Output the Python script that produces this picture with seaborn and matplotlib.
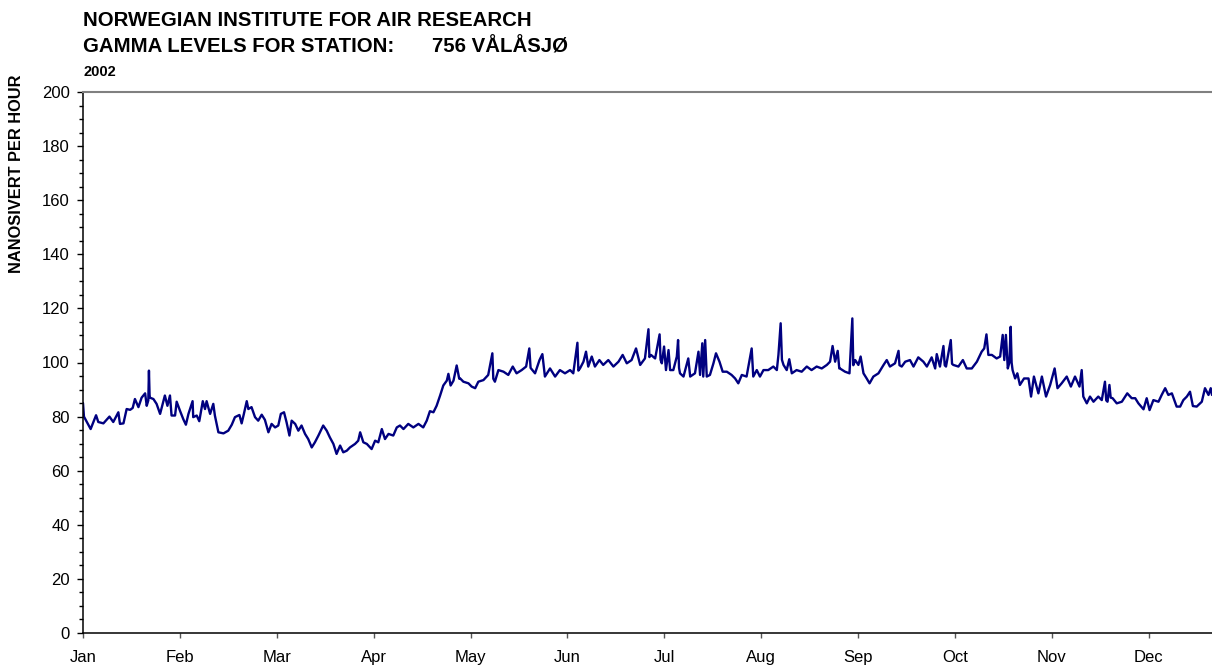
import numpy as np
import pandas as pd
import matplotlib
matplotlib.use("Agg")
import matplotlib.pyplot as plt
from matplotlib.ticker import MultipleLocator, FixedLocator
import seaborn as sns

# Day of year (2002) and hourly gamma dose rate (nSv/h)
day = [0.0, 0.3, 2.4, 4.1, 4.8, 6.4, 8.3, 9.5, 11.1, 11.6, 12.7, 13.7, 14.8, 15.6, 16.3, 17.4,
       18.4, 19.5, 20.0, 20.5, 20.7, 20.9, 21.0, 22.1, 23.1, 24.2, 25.7, 26.5, 27.3, 27.8, 28.9,
       29.4, 30.5, 31.5, 32.3, 33.1, 34.4, 34.6, 35.7, 36.5, 37.6, 38.3, 38.8, 39.9, 40.9, 41.4,
       42.5, 44.1, 45.6, 46.7, 47.7, 49.1, 49.8, 50.5, 51.4, 51.9, 52.9, 54.0, 55.0, 56.1, 57.1,
       58.2, 59.2, 60.3, 61.3, 62.1, 63.1, 63.9, 64.8, 65.5, 66.6, 67.6, 68.6, 69.7, 70.7, 71.8,
       72.8, 73.9, 75.4, 76.5, 77.5, 78.6, 79.6, 80.7, 81.7, 82.8, 83.8, 85.4, 86.4, 87.0, 88.0,
       89.1, 90.6, 91.7, 92.7, 93.8, 94.8, 95.9, 97.4, 98.5, 99.5, 100.6, 102.1, 103.7, 105.3,
       106.8, 107.9, 108.9, 110.0, 111.0, 112.1, 113.1, 114.2, 114.7, 115.4, 116.3, 117.3, 118.1,
       118.4, 119.4, 121.0, 122.0, 123.1, 124.1, 125.7, 127.2, 128.5, 128.8, 129.3, 130.4, 132.0,
       133.5, 134.9, 136.1, 137.7, 139.1, 140.1, 140.5, 141.9, 143.3, 144.2, 145.0, 146.6, 148.2,
       149.7, 151.3, 152.9, 153.9, 155.2, 155.5, 156.0, 157.1, 157.9, 158.6, 159.7, 160.7, 162.1,
       163.3, 164.9, 166.5, 168.1, 169.4, 170.7, 172.2, 173.6, 174.9, 176.4, 177.5, 177.8, 178.3,
       179.6, 180.1, 181.0, 181.3, 181.7, 182.4, 183.0, 183.8, 184.3, 185.3, 186.4, 186.8, 187.1,
       187.4, 188.5, 190.0, 190.6, 192.1, 193.2, 193.7, 194.4, 194.7, 195.3, 195.8, 196.8, 197.9,
       198.7, 199.8, 200.8, 202.1, 203.6, 204.7, 205.7, 206.8, 208.3, 209.9, 210.4, 211.5, 212.5,
       213.6, 215.1, 216.7, 217.8, 218.3, 219.0, 219.4, 219.9, 220.9, 221.7, 222.5, 224.0, 225.6,
       227.2, 228.7, 230.3, 231.9, 233.5, 234.5, 235.3, 236.1, 236.9, 237.4, 237.6, 239.2, 240.6,
       241.5, 241.8, 242.4, 243.4, 244.1, 245.0, 246.0, 246.9, 248.1, 249.7, 251.3, 252.3, 253.3,
       254.9, 256.0, 256.3, 257.0, 258.1, 259.6, 260.7, 262.2, 263.8, 264.9, 266.4, 267.5, 268.0,
       269.0, 270.1, 270.5, 270.9, 272.4, 272.8, 273.2, 274.8, 276.2, 277.4, 279.0, 280.6, 282.1,
       282.9, 283.6, 284.2, 285.3, 286.8, 287.9, 288.7, 289.2, 289.7, 290.3, 290.8, 291.2, 291.5,
       291.8, 292.6, 293.3, 294.1, 295.4, 296.8, 297.6, 298.5, 299.9, 301.0, 302.3, 303.6, 305.0,
       305.9, 307.2, 308.8, 310.1, 311.4, 312.8, 313.5, 314.0, 315.1, 316.1, 317.2, 318.7, 319.8,
       320.8, 321.2, 321.6, 322.2, 322.6, 323.2, 324.5, 326.1, 327.8, 329.2, 330.3, 331.3, 332.9,
       333.9, 334.8, 336.0, 337.6, 338.6, 339.7, 340.7, 341.8, 343.3, 344.4, 345.4, 346.5, 347.5,
       348.4, 349.6, 351.2, 352.2, 353.3, 354.0, 354.4]

nsv = [85, 80, 75.4, 80.5, 78, 77.5, 80, 78, 81.6, 77.3, 77.5, 82.8, 82.5, 83.2, 86.5, 83.5,
       87, 88.6, 84, 86, 97, 88, 87, 86.5, 84.7, 81, 87.8, 84, 87.8, 80.4, 80.4,
       85.5, 82, 79, 77, 81, 85.7, 79.8, 80.4, 78.3, 85.7, 82.8, 85.7, 81, 84.7, 80.4,
       74.2, 73.8, 74.8, 77, 79.8, 80.6, 77.5, 81, 85.7, 82.8, 83.5, 79.8, 78.5, 80.7, 78.8,
       74.2, 77.3, 76, 76.7, 81, 81.6, 77.9, 73, 78.5, 77.3, 74.8, 76.7, 73.6, 71.7, 68.6,
       70.5, 73, 76.7, 74.8, 72.3, 69.9, 66.2, 69.3, 66.8, 67.4, 68.6, 69.9, 71.1, 74.2, 70.5,
       69.9, 68, 71.1, 70.5, 75.4, 71.7, 73.6, 73, 76, 76.7, 75.4, 77.3, 76, 77.3,
       76, 78.5, 82, 81.6, 84, 87.8, 91.5, 93.3, 95.8, 91.5, 93.3, 98.9, 94,
       94.1, 92.9, 92.3, 91.1, 90.5, 92.9, 93.5, 95.4, 103.4, 94, 92.9, 97.2, 96.6,
       95.4, 98.5, 96, 97.2, 98.5, 105.2, 98, 96, 100.9, 103.1, 94.8, 97.8, 94.8,
       97.2, 96, 97.2, 96, 107.3, 97, 97.8, 100.3, 104, 98.5, 102.2, 98.5, 100.9,
       99.1, 100.9, 98.5, 100.3, 102.8, 99.7, 100.9, 105.2, 99.1, 101.5, 112.3, 102, 102.8,
       101.5, 104.6, 110.4, 101, 99.7, 105.9, 97.2, 104.6, 97.2, 97.2, 102.2, 108.3, 98,
       96, 94.8, 101.5, 94.8, 96, 104, 95.4, 107.1, 94.8, 108.3, 94.8, 95.4, 99.7,
       103.4, 100.3, 96.6, 96.6, 95.4, 94.1, 92.3, 95.4, 94.8, 105.2, 94.8, 97.2, 94.8,
       97.2, 97.2, 98.5, 97.2, 102.8, 114.5, 101, 99.1, 97.2, 101.2, 96, 97.2, 96.6,
       98.5, 97.2, 98.5, 97.8, 99.1, 100.3, 106.1, 100.3, 104.3, 97.8, 97.8, 96.6, 96,
       116.3, 99, 100.9, 99.1, 102.2, 96, 94.1, 92.3, 94.8, 96, 99.1, 100.9, 98.5,
       99.7, 104.3, 99, 98.5, 100.3, 100.9, 98.5, 101.9, 100.3, 98.5, 101.9, 97.8, 103.1,
       98.5, 106.1, 99, 98.5, 108.3, 99.5, 99.1, 98.5, 100.9, 97.8, 97.8, 100.3, 104,
       105.2, 110.4, 102.8, 102.8, 101.5, 102.2, 110.2, 100.9, 110.2, 97.8, 100, 113.2, 100,
       97.2, 94.1, 96, 91.7, 94.1, 94.1, 87.4, 94.8, 88.6, 94.8, 87.4, 91.7, 97.8,
       90.5, 92.3, 94.8, 91.1, 94.8, 91.1, 97.2, 87.4, 84.9, 87.4, 85.5, 87.4, 86.1,
       92.9, 86, 85.5, 91.7, 87, 86.8, 84.9, 85.5, 88.6, 86.8, 86.8, 84.9, 82.7,
       86.8, 82.4, 86.1, 85.5, 88, 90.5, 88, 88.6, 83.7, 83.7, 86.1, 87.4, 89.2,
       83.9, 83.7, 85.5, 90.5, 88, 90.5, 88]

months = ["Jan", "Feb", "Mar", "Apr", "May", "Jun", "Jul", "Aug", "Sep", "Oct", "Nov", "Dec"]
month_start = [i * 365 / 12 for i in range(12)]

df = pd.DataFrame({"day": day, "nsv": nsv})

sns.set_style("ticks")
plt.rcParams["font.family"] = ["Liberation Sans", "DejaVu Sans"]
plt.rcParams["text.color"] = "black"
plt.rcParams["xtick.color"] = "black"
plt.rcParams["ytick.color"] = "black"

fig = plt.figure(figsize=(12.12, 6.69), dpi=100)
ax = fig.add_axes([83 / 1212, 1 - 633 / 669, 1 - 83 / 1212, (633 - 92) / 669])

sns.lineplot(data=df, x="day", y="nsv", ax=ax, color="#000080", linewidth=1.7)

ax.set_xlim(0, 354.4)
ax.set_ylim(0, 200)
ax.yaxis.set_major_locator(MultipleLocator(20))
ax.yaxis.set_minor_locator(MultipleLocator(5))
ax.xaxis.set_major_locator(FixedLocator(month_start))
ax.set_xticklabels(months)
ax.set_xlabel("")
ax.set_ylabel("")

ax.tick_params(axis="y", which="major", direction="out", length=4.5, width=1, color="black",
               labelsize=12, labelcolor="black", pad=5)
ax.tick_params(axis="y", which="minor", direction="out", length=2.7, width=1, color="black")
ax.tick_params(axis="x", which="major", direction="out", length=3.5, width=1, color="#555555",
               labelsize=12, labelcolor="black", pad=9)

for s in ["left", "bottom"]:
    ax.spines[s].set_color("black")
    ax.spines[s].set_linewidth(1.1)
ax.spines["top"].set_visible(True)
ax.spines["top"].set_color("#808080")
ax.spines["top"].set_linewidth(1.5)
ax.spines["right"].set_visible(False)
ax.grid(False)

fig.text(83 / 1212, 1 - 21 / 669, "NORWEGIAN INSTITUTE FOR AIR RESEARCH", fontsize=14.7,
         fontweight="bold", ha="left", va="center", color="black")
fig.text(83 / 1212, 1 - 47 / 669, "GAMMA LEVELS FOR STATION:", fontsize=14.7,
         fontweight="bold", ha="left", va="center", color="black")
fig.text(432 / 1212, 1 - 47 / 669, "756 VÅLÅSJØ", fontsize=14.7,
         fontweight="bold", ha="left", va="center", color="black")
fig.text(83 / 1212, 1 - 72 / 669, "2002", fontsize=10.5,
         fontweight="bold", ha="left", va="center", color="black")
fig.text(17 / 1212, 1 - 174 / 669, "NANOSIVERT PER HOUR", fontsize=11.8, fontweight="bold",
         rotation=90, ha="center", va="center", color="black")

fig.savefig("out.png", dpi=100)
